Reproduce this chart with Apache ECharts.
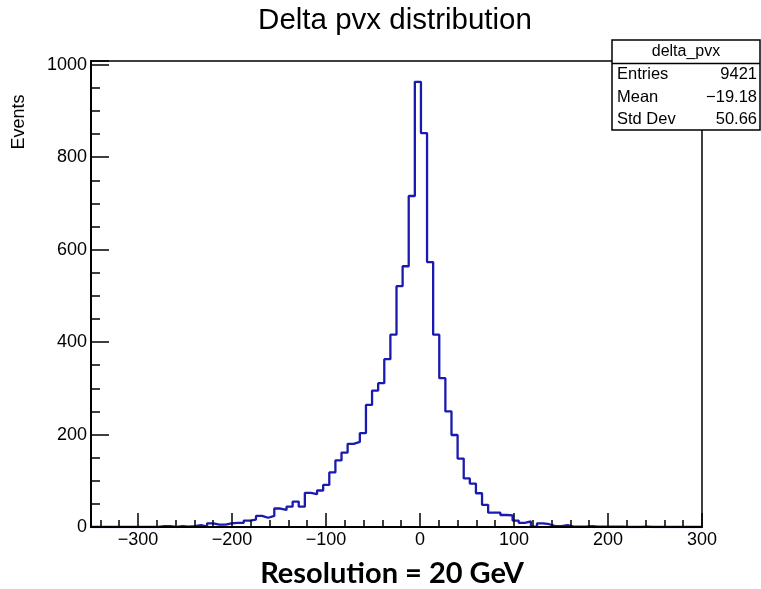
<!DOCTYPE html>
<html><head><meta charset="utf-8">
<script src="https://cdn.jsdelivr.net/npm/echarts@6/dist/echarts.min.js"></script>
<style>html,body{margin:0;padding:0;background:#fff}#c{width:761px;height:589px}</style>
</head><body><div id="c"></div>
<script>
// Histogram definition (100 bins from -350 to 300)
const histLow = -350;
const histHigh = 300;
const binWidth = 6.5;
const counts = [
  0,0,0,0,0,0,0,0,0,0,
  0,2,2,0,2,1,2,4,1,8,
  5,5,8,9,9,14,16,24,20,24,
  40,37,44,55,44,74,71,79,91,118,
  144,161,180,184,203,264,295,311,363,416,
  521,564,716,963,852,573,416,322,250,199,
  148,105,94,73,48,31,31,26,25,14,
  9,12,1,8,6,2,2,4,1,1,
  1,2,1,1,1,1,1,0,0,0,
  1,0,0,0,0,0,0,0,0,0
];
const yMax = 1008;
const xTickLabels = [-300, -200, -100, 0, 100, 200, 300];
const yTickLabels = [0, 200, 400, 600, 800, 1000];
const titleText = 'Delta pvx distribution';
const yTitle = 'Events';
const statsTitle = 'delta_pvx';
const statsNames = ['Entries', 'Mean', 'Std Dev'];
const statsValues = ['9421', '\u221219.18', '50.66'];
const caption = 'Resolution = 20 GeV';

const stepData = counts.map((c, i) => [histLow + i * binWidth, c]);
stepData.push([histHigh, counts[counts.length - 1]]);

const FONT = '"Liberation Sans", Arial, sans-serif';
const fmtX = v => xTickLabels.indexOf(v) >= 0 ? (v < 0 ? '\u2212' + Math.abs(v) : String(v)) : '';
const fmtY = v => yTickLabels.indexOf(v) >= 0 ? String(v) : '';

const chart = echarts.init(document.getElementById('c'), null, {renderer: 'canvas'});

const statsGraphics = [
  {type: 'rect', shape: {x: 612, y: 40, width: 148, height: 90}, style: {fill: '#fff', stroke: '#000', lineWidth: 1.5}, z: 100},
  {type: 'line', shape: {x1: 612, y1: 63.5, x2: 760, y2: 63.5}, style: {stroke: '#000', lineWidth: 1.5}, z: 101},
  {type: 'text', x: 686, y: 51.5, style: {text: statsTitle, fontSize: 16, fontFamily: FONT, fill: '#000', align: 'center', verticalAlign: 'middle'}, z: 101}
];
const rowY = [74, 97, 119.5];
statsNames.forEach((n, i) => {
  statsGraphics.push({type: 'text', x: 617, y: rowY[i], style: {text: n, fontSize: 16.5, fontFamily: FONT, fill: '#000', align: 'left', verticalAlign: 'middle'}, z: 101});
  statsGraphics.push({type: 'text', x: 757, y: rowY[i], style: {text: statsValues[i], fontSize: 16.5, fontFamily: FONT, fill: '#000', align: 'right', verticalAlign: 'middle'}, z: 101});
});

const option = {
  animation: false,
  backgroundColor: '#fff',
  grid: {left: 91, right: 59, top: 61, bottom: 62, show: true, borderColor: '#000', borderWidth: 1.5, backgroundColor: 'transparent'},
  xAxis: [
    {
      type: 'value', min: histLow, max: histHigh, minInterval: 100, maxInterval: 100, position: 'bottom', z: 5,
      axisLine: {show: true, onZero: false, lineStyle: {color: '#000', width: 2}},
      axisTick: {show: true, inside: true, length: 14, lineStyle: {color: '#000', width: 1.5}},
      axisLabel: {show: true, formatter: fmtX, color: '#000', fontSize: 18, fontFamily: FONT, margin: 4, showMinLabel: true, showMaxLabel: true},
      splitLine: {show: false}
    },
    {
      type: 'value', min: histLow, max: histHigh, minInterval: 20, maxInterval: 20, position: 'bottom', z: 5,
      axisLine: {show: false, onZero: false},
      axisTick: {show: true, inside: true, length: 7, lineStyle: {color: '#000', width: 1.5}},
      axisLabel: {show: false},
      splitLine: {show: false}
    }
  ],
  yAxis: [
    {
      type: 'value', min: 0, max: yMax, interval: 200, position: 'left', z: 5,
      axisLine: {show: true, onZero: false, lineStyle: {color: '#000', width: 2}},
      axisTick: {show: true, inside: true, length: 18, lineStyle: {color: '#000', width: 1.5}},
      axisLabel: {show: true, formatter: fmtY, color: '#000', fontSize: 18, fontFamily: FONT, margin: 4},
      splitLine: {show: false}
    },
    {
      type: 'value', min: 0, max: yMax, interval: 50, position: 'left', z: 5,
      axisLine: {show: false, onZero: false},
      axisTick: {show: true, inside: true, length: 9, lineStyle: {color: '#000', width: 1.5}},
      axisLabel: {show: false},
      splitLine: {show: false}
    }
  ],
  series: [{
    type: 'line', xAxisIndex: 0, yAxisIndex: 0, data: stepData, step: 'end',
    symbol: 'none', z: 1, lineStyle: {color: '#1a1ab0', width: 2.3}, silent: true
  }],
  graphic: [
    {type: 'text', x: 395, y: 21, style: {text: titleText, fontSize: 29.5, fontFamily: FONT, fill: '#000', align: 'center', verticalAlign: 'middle'}, z: 100},
    {type: 'text', x: 19, y: 122, rotation: Math.PI / 2, style: {text: yTitle, fontSize: 18, fontFamily: FONT, fill: '#000', align: 'center', verticalAlign: 'middle'}, z: 100},
    {type: 'text', x: 392, y: 574, style: {text: caption, fontSize: 29, fontWeight: 'bold', fontFamily: 'Lato, "Open Sans", sans-serif', fill: '#000', align: 'center', verticalAlign: 'middle'}, z: 100}
  ].concat(statsGraphics)
};
chart.setOption(option);
</script>
</body></html>
